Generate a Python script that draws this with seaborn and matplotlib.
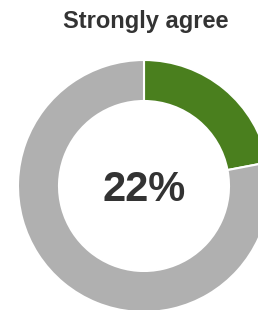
import matplotlib
matplotlib.use("Agg")
import matplotlib.pyplot as plt
import seaborn as sns

# chart values
title = "Strongly agree"
segments = ["Strongly agree", "Rest"]
shares = [22, 78]
colors = ["#4a7f1e", "#b0b0b0"]

sns.set_theme(style="white", rc={"figure.facecolor": "white", "axes.facecolor": "white"})
plt.rcParams["font.family"] = ["Liberation Sans", "DejaVu Sans"]

W, H = 258, 310
fig = plt.figure(figsize=(W / 100, H / 100), dpi=100)
ax = fig.add_axes([0, 0, 1, 1])

# donut, partly cut off on right and bottom like the reference
cx, cy = 144, H - 186
ax.pie(shares, colors=colors, startangle=90, counterclock=False,
       center=(cx, cy), radius=126,
       wedgeprops={"width": 41, "edgecolor": "white", "linewidth": 1.5})
ax.set_xlim(0, W)
ax.set_ylim(0, H)
ax.set_aspect("auto")
ax.axis("off")

ax.text(cx, cy - 4, f"{shares[0]}%", ha="center", va="center",
        fontsize=30, fontweight="bold", color="#333333")
ax.text(146, H - 28, title, ha="center", va="baseline",
        fontsize=17, fontweight="bold", color="#333333")

fig.savefig("out.png", dpi=100)
